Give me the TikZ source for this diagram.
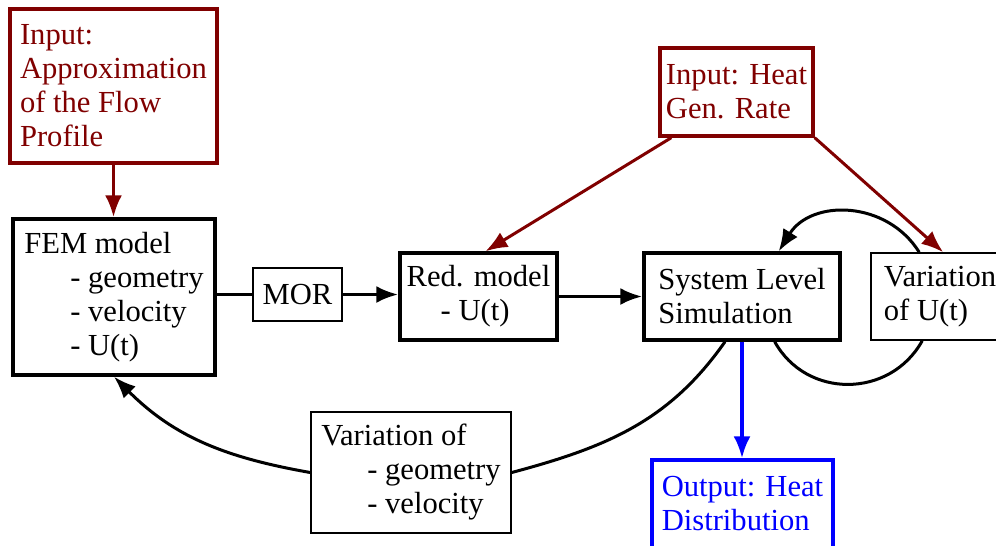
\documentclass[tikz,border=0pt]{standalone}
\usepackage{fontspec}
\setmainfont{Liberation Serif}
\usetikzlibrary{arrows.meta}
\definecolor{inred}{RGB}{128,0,0}
\begin{document}
\begin{tikzpicture}[x=0.5pt, y=0.5pt, font=\fontsize{15.3}{17}\selectfont,
    box/.style={draw, line width=0.8pt, inner sep=0pt, align=left},
    bigbox/.style={box, line width=1.7pt},
    inbox/.style={bigbox, draw=inred, text=inred},
    outbox/.style={bigbox, draw=blue, text=blue},
    link/.style={line width=1.5pt},
    arr/.style={link, -{Latex[length=11pt,width=8.5pt]}},
    thickarr/.style={arr, line width=1.8pt}]
    \useasboundingbox (0,0) rectangle (996,-546);
    \node[inbox, minimum width=103.5pt, minimum height=77pt] (flow) at (113.5,-86) {Input:\\Approximation\\of the Flow\\Profile};
    \node[bigbox, minimum width=101pt, minimum height=78pt] (fem) at (114,-297) {FEM model\\\hspace*{23pt}- geometry\\\hspace*{23pt}- velocity\\\hspace*{23pt}- U(t)};
    \node[box, minimum width=44.5pt, minimum height=26.5pt, align=center] (mor) at (297.5,-294.5) {MOR};
    \node[bigbox, minimum width=78.5pt, minimum height=43.5pt] (red) at (478.5,-296.5) {Red. model\\\hspace*{17pt}- U(t)};
    \node[bigbox, minimum width=98pt, minimum height=43.5pt] (sim) at (742,-296.5) {System Level\\Simulation};
    \node[box, minimum width=69pt, minimum height=43.5pt] (varU) at (940,-296.5) {Variation\\of U(t)};
    \node[inbox, minimum width=76.5pt, minimum height=44pt] (heat) at (736.5,-92) {Input: Heat\\Gen. Rate};
    \node[box, minimum width=100pt, minimum height=60.5pt] (varG) at (411,-472.5) {Variation of\\\hspace*{23pt}- geometry\\\hspace*{23pt}- velocity};
    \node[outbox, minimum width=90.5pt, minimum height=44pt] (out) at (742.5,-504) {Output: Heat\\Distribution};
    \draw[thickarr, inred] (flow.south) -- (flow.south |- fem.north);
    \draw[link, line width=1.8pt] (mor.west -| fem.east) -- (mor.west);
    \draw[thickarr] (mor.east) -- (mor.east -| red.west);
    \draw[thickarr] (red) -- (sim);
    \draw[arr, inred] ([xshift=6.5pt]heat.south west) -- ([xshift=3.5pt]red.north);
    \draw[arr, inred] (heat.south east) -- ([xshift=36.5pt]varU.north west);
    \draw[arr] ([xshift=24.5pt]varU.north west) to[out=122, in=58, looseness=1.12] ([xshift=-31.5pt]sim.north east);
    \draw[link] ([xshift=-33.5pt]sim.south east) to[out=-61, in=-119, looseness=1.14] ([xshift=26pt]varU.south west);
    \draw[thickarr, blue] (sim.south) -- (sim.south |- out.north);
    \draw[link] ([xshift=-8.5pt]sim.south) to[out=235, in=15] (varG.east);
    \draw[arr] (varG.west) to[out=170, in=-45] (fem.south);
\end{tikzpicture}
\end{document}
